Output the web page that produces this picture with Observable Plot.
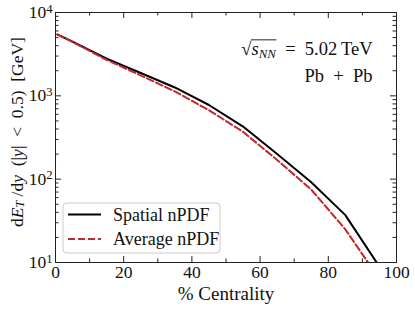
<!DOCTYPE html>
<html><head><meta charset="utf-8">
<script src="https://cdn.jsdelivr.net/npm/d3@7"></script>
<script src="https://cdn.jsdelivr.net/npm/@observablehq/plot@0.6"></script>
<style>
body{margin:0;background:#fff;}
#chart{width:415px;height:310px;position:relative;}
#chart svg text{font-family:"Liberation Serif","DejaVu Serif",serif !important;}
</style></head><body><div id="chart"></div>
<script>
// ---- data ----
const centrality = [0.5, 5, 15, 25, 35, 45, 55, 65, 75, 85, 95];
const spatial = [5450, 4470, 2800, 1880, 1260, 776, 428, 200, 92, 37, 8.9];
const average = [5450, 4430, 2700, 1760, 1130, 672, 370, 170, 75, 25, 6.3];
const seriesNames = ["Spatial nPDF", "Average nPDF"];
const xMajor = [0, 20, 40, 60, 80, 100];
const xMinor = [10, 30, 50, 70, 90];
const yMajor = [10, 100, 1000, 10000];
const yMinor = [20,30,40,50,60,70,80,90,200,300,400,500,600,700,800,900,2000,3000,4000,5000,6000,7000,8000,9000];
const xLabel = "% Centrality";
const annotations = ["√sNN = 5.02 TeV", "Pb + Pb"];

// ---- styles ----
const W = 415, H = 310, mL = 55, mR = 19, mT = 12, mB = 48;
const pw = W - mL - mR, ph = H - mT - mB;
const colors = ["#000000", "#c1272d"];
const dashes = [null, "7,3"];
const axisColor = "#222";
const font = "'Liberation Serif', 'DejaVu Serif', serif";

const rows = centrality.flatMap((c, i) => [
  {c, v: spatial[i], s: seriesNames[0]},
  {c, v: average[i], s: seriesNames[1]}
]);

const chart = Plot.plot({
  width: W, height: H,
  marginLeft: mL, marginRight: mR, marginTop: mT, marginBottom: mB,
  style: {fontFamily: font, fontSize: "17px", color: "#111", background: "#fff"},
  x: {domain: [0, 100]},
  y: {type: "log", domain: [10, 1e4]},
  marks: [
    ...seriesNames.map((name, k) => Plot.line(rows.filter(d => d.s === name), {
      x: "c", y: "v", stroke: colors[k], strokeWidth: 2,
      strokeDasharray: dashes[k], clip: true
    })),
    Plot.tickX(xMajor, {x: d => d, insetTop: ph - 6, stroke: axisColor}),
    Plot.tickX(xMajor, {x: d => d, insetBottom: ph - 6, stroke: axisColor}),
    Plot.tickX(xMinor, {x: d => d, insetTop: ph - 3.5, stroke: axisColor}),
    Plot.tickX(xMinor, {x: d => d, insetBottom: ph - 3.5, stroke: axisColor}),
    Plot.tickY(yMajor, {y: d => d, insetRight: pw - 6, stroke: axisColor}),
    Plot.tickY(yMajor, {y: d => d, insetLeft: pw - 6, stroke: axisColor}),
    Plot.tickY(yMinor, {y: d => d, insetRight: pw - 3.5, stroke: axisColor}),
    Plot.tickY(yMinor, {y: d => d, insetLeft: pw - 3.5, stroke: axisColor}),
    Plot.axisX({ticks: xMajor, tickSize: 0, tickPadding: 3, tickFormat: d => String(d),
      label: xLabel, labelAnchor: "center", labelArrow: "none", labelOffset: 37}),
    Plot.axisY({ticks: yMajor, tickSize: 0, tickPadding: 3,
      tickFormat: d => "10|" + Math.round(Math.log10(d)), label: null}),
    Plot.frame({stroke: axisColor, strokeWidth: 1}),
    Plot.text([annotations[0]], {text: d => d, frameAnchor: "top-right", dx: -24, dy: 29,
      textAnchor: "end"}),
    Plot.text([annotations[1]], {text: d => d, frameAnchor: "top-right", dx: -24, dy: 56,
      textAnchor: "end"})
  ]
});
document.getElementById("chart").appendChild(chart);

const svg = d3.select(chart);
// font sizes on axis & annotation text
svg.selectAll('g[aria-label$="tick label"] text').style("font-size", "17.5px");
svg.selectAll('g[aria-label="x-axis label"] text').style("font-size", "19px");
svg.selectAll('g[aria-label="text"] text').style("font-size", "18.5px");

// superscript y tick labels
svg.selectAll('g[aria-label="y-axis tick label"] text').each(function() {
  const [b, e] = this.textContent.split("|");
  const t = d3.select(this);
  t.text(b);
  t.append("tspan").attr("dy", "-0.42em").attr("font-size", "0.72em").text(e);
});
// annotation 1 rich text with radical overline
svg.selectAll("text").each(function() {
  if (this.textContent === annotations[0]) {
    const t = d3.select(this);
    t.text("");
    t.append("tspan").text("√");
    t.append("tspan").attr("font-style", "italic").text("s");
    t.append("tspan").attr("font-style", "italic").attr("font-size", "0.7em").attr("dy", "3").text("NN");
    t.append("tspan").attr("dy", "-3").text("\u2002=\u20025.02\u2009TeV");
    const node = this;
    const rad = node.getExtentOfChar(0);
    const x1 = node.getEndPositionOfChar(0).x;
    const x2 = node.getEndPositionOfChar(3).x;
    d3.select(node.parentNode).append("line")
      .attr("transform", node.getAttribute("transform"))
      .attr("x1", x1 - 0.5).attr("x2", x2 + 0.5)
      .attr("y1", rad.y + 1.2).attr("y2", rad.y + 1.2)
      .attr("stroke", "#111").attr("stroke-width", 0.9);
  }
  if (this.textContent === annotations[1]) {
    d3.select(this).text(annotations[1].replace(/ /g, "\u2002"));
  }
});
// y-axis label
const yl = svg.append("text")
  .attr("transform", `translate(17,${mT + ph / 2 - 5}) rotate(-90)`)
  .attr("text-anchor", "middle").attr("dominant-baseline", "central")
  .attr("font-size", 17.5).attr("fill", "#111");
yl.append("tspan").text("d");
yl.append("tspan").attr("font-style", "italic").text("E");
yl.append("tspan").attr("font-style", "italic").attr("font-size", 12).attr("dy", 3).text("T");
yl.append("tspan").attr("dy", -3).text(" /d");
yl.append("tspan").attr("font-style", "italic").text("y");
yl.append("tspan").text("  (|");
yl.append("tspan").attr("font-style", "italic").text("y");
yl.append("tspan").text("|\u2002<\u20020.5)  [GeV]");

// legend
const lg = svg.append("g");
const lx = mL + 8, ly = H - mB - 59;
lg.append("rect").attr("x", lx).attr("y", ly).attr("width", 157).attr("height", 50)
  .attr("rx", 4).attr("fill", "#fff").attr("fill-opacity", 0.9).attr("stroke", "#ccc");
seriesNames.forEach((name, k) => {
  const yy = ly + 11.5 + k * 24.5;
  lg.append("line").attr("x1", lx + 5).attr("x2", lx + 38).attr("y1", yy).attr("y2", yy)
    .attr("stroke", colors[k]).attr("stroke-width", 2)
    .attr("stroke-dasharray", dashes[k]);
  lg.append("text").attr("x", lx + 50).attr("y", yy).attr("dominant-baseline", "central")
    .attr("text-anchor", "start")
    .style("font-size", "18px").attr("fill", "#111").text(name);
});
</script></body></html>
